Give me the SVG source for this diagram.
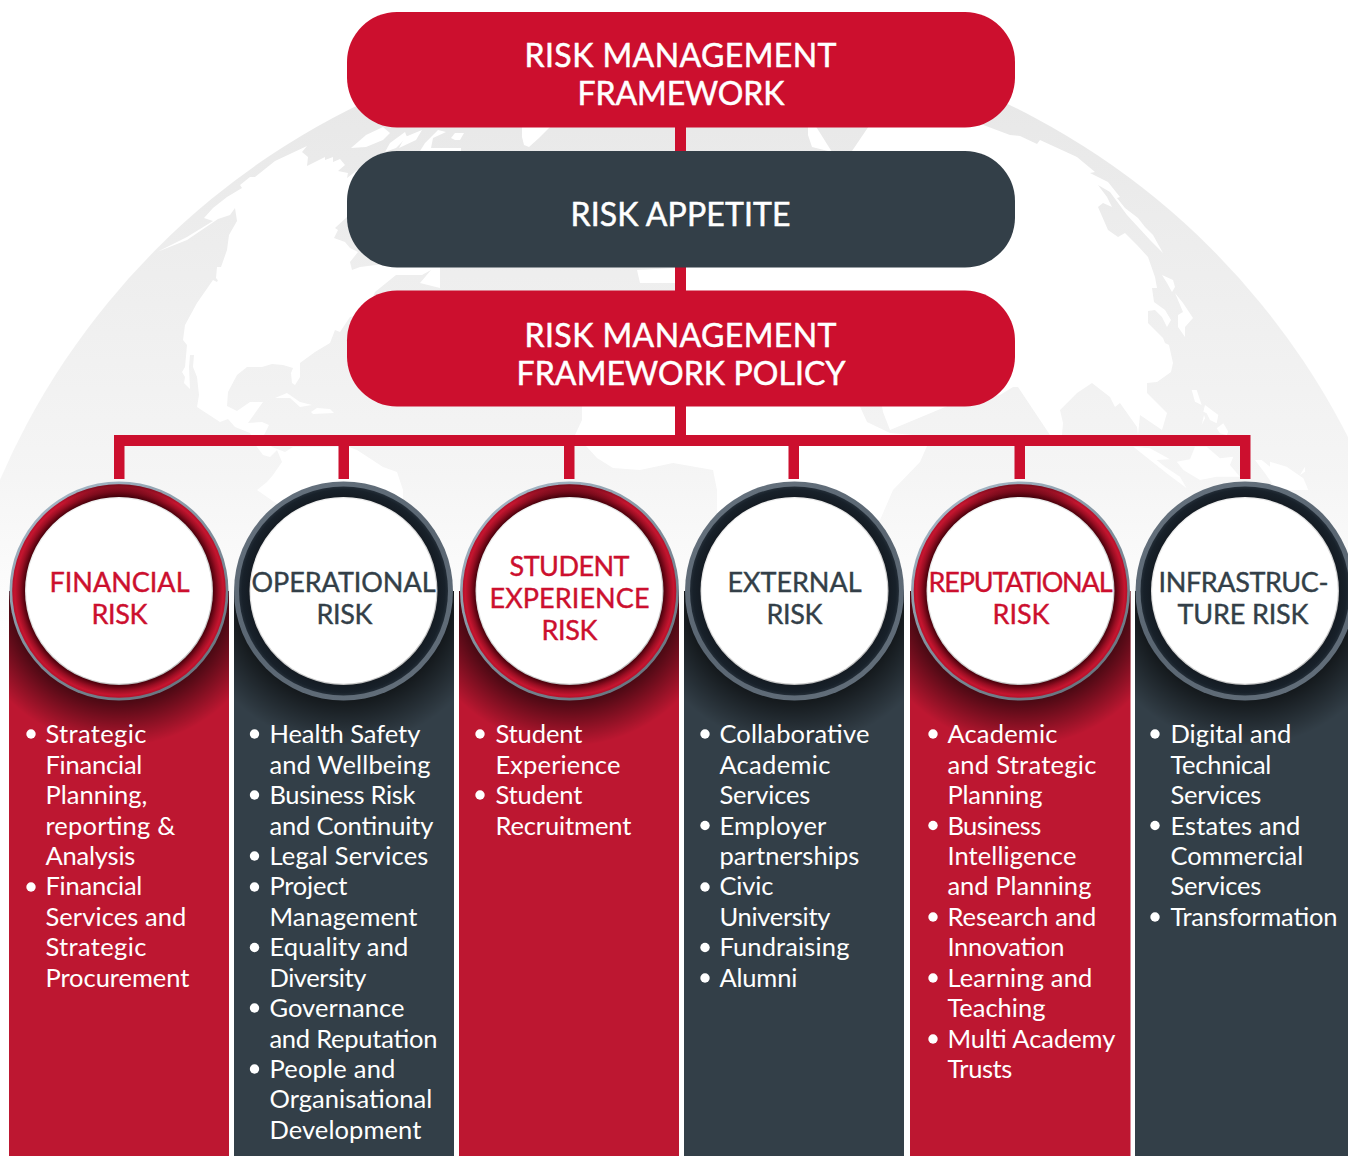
<svg xmlns="http://www.w3.org/2000/svg" width="1348" height="1156" viewBox="0 0 1348 1156">
<style>
text{font-family:Lato,"Liberation Sans",sans-serif}
.t{fill:#fff;font-size:32px;stroke:#fff;stroke-width:.5px;transform:translate(-.5px,1px)}
.h{font-size:27px;stroke-width:.4px}
.hr{fill:#cc0f2e;stroke:#cc0f2e}
.hd{fill:#333f48;stroke:#333f48}
.b{fill:#fff;font-size:25.5px;transform:translate(-.6px,-.5px)}
.box{rx:50px;ry:50px}
.red{fill:#cc0f2e}
.dark{fill:#333f48}
.land{fill:#fff}
.bl{fill:#fff}
</style>
<defs>
<linearGradient id="globe" gradientUnits="userSpaceOnUse" x1="0" y1="100" x2="0" y2="640">
<stop offset="0" stop-color="#e8e8e8"/><stop offset=".7" stop-color="#f5f5f5"/><stop offset="1" stop-color="#fff"/>
</linearGradient>
<radialGradient id="shadow" cx=".5" cy="0" r="1" gradientTransform="translate(.5 0) scale(.705 .975) translate(-.5 0)">
<stop offset="0" stop-color="#000" stop-opacity=".6"/><stop offset=".71" stop-color="#000" stop-opacity=".6"/><stop offset="1" stop-color="#000" stop-opacity="0"/>
</radialGradient>
<linearGradient id="edgeR" x1=".15" y1="0" x2=".8" y2="1">
<stop offset="0" stop-color="#a9bccb"/><stop offset=".5" stop-color="#7f8f9c"/><stop offset="1" stop-color="#66727d"/>
</linearGradient>
<linearGradient id="edgeD" x1=".15" y1="0" x2=".8" y2="1">
<stop offset="0" stop-color="#66727e"/><stop offset=".5" stop-color="#5a6672"/><stop offset="1" stop-color="#626e7a"/>
</linearGradient>
<radialGradient id="ringR">
<stop offset=".88" stop-color="#4a000b"/><stop offset=".935" stop-color="#9a0e23"/><stop offset=".975" stop-color="#c5152f"/><stop offset="1" stop-color="#b5112a"/>
</radialGradient>
<radialGradient id="ringD">
<stop offset=".86" stop-color="#12181f"/><stop offset=".97" stop-color="#18212a"/><stop offset="1" stop-color="#232d37"/>
</radialGradient>
<linearGradient id="top" x1="0" y1="0" x2="0" y2="1">
<stop offset="0" stop-color="#000" stop-opacity=".35"/><stop offset=".09" stop-color="#000" stop-opacity="0"/>
</linearGradient>
<linearGradient id="face" x1=".2" y1="0" x2=".8" y2="1">
<stop offset="0" stop-color="#f4f4f4"/><stop offset="1" stop-color="#bdbdbd"/>
</linearGradient>
<g id="ring-red"><circle r="109.5" fill="url(#edgeR)"/><circle r="106.8" fill="url(#ringR)"/><circle r="106.8" fill="url(#top)"/><circle r="94" fill="url(#face)"/><circle r="92.8" fill="#fff"/></g>
<g id="ring-dark"><circle r="109.5" fill="url(#edgeD)"/><circle r="104.5" fill="url(#ringD)"/><circle r="94" fill="url(#face)"/><circle r="92.8" fill="#fff"/></g>
</defs>

<g id="globe-bg">
<circle cx="684" cy="775" r="745" fill="url(#globe)"/>
<polygon class="land" points="157,252 187,237 213,221 204,218 213,208 227,197 242,188 240,185 250,177 255,177 275,161 307,146 302,152 308,157 307,166 325,157 325,160 333,157 333,162 340,159 345,165 338,171 348,173 347,178 360,168 370,200 370,215 347,217 335,228 338,230 334,238 345,242 350,248 358,252 350,262 352,270 360,267 400,262 440,262 440,288 420,283 431,270 422,275 396,275 375,292 370,305 360,315 350,317 340,332 335,330 330,343 315,352 300,363 300,377 295,385 292,383 291,373 293,368 283,365 272,364 262,367 247,367 237,375 228,392 227,406 237,411 250,402 263,402 248,423 262,422 269,425 263,437 272,447 285,452 293,447 349,447 357,450 383,467 397,472 403,490 403,520 300,520 257,490 267,482 273,475 282,462 277,450 270,457 263,455 257,447 250,433 235,427 228,419 220,422 197,407 199,395 197,377 193,367 194,355 190,355 189,367 190,389 184,383 185,377 182,372 185,367 187,345 183,340 185,325 197,303 213,280 217,282 222,272 220,283 216,278 217,267 221,267 227,250 229,235 237,221 235,208 230,215 218,219 187,240"/>
<polygon class="land" points="275,398 287,393 300,402 312,405 300,407 290,398"/>
<polygon class="land" points="311,412 317,408 330,409 334,413 313,414"/>
<polygon class="land" points="351,148 366,135 383,127 390,133 383,140 366,147"/>
<polygon class="land" points="385,152 390,143 405,132 407,137 396,148"/>
<polygon class="land" points="399,148 405,137 422,130 416,140"/>
<polygon class="land" points="420,151 425,143 438,130 446,132 433,138 431,148 461,148 461,151"/>
<polygon class="land" points="451,138 455,133 464,133 460,140 455,140"/>
<polygon class="land" points="522,125 552,125 539,138 529,147 524,145 522,137"/>
<polygon class="land" points="808,125 815,125 832,152 812,147 808,135"/>
<polygon class="land" points="873,120 970,120 1010,135 1020,136 1037,144 1040,140 1077,157 1095,172 1090,173 1108,182 1120,197 1117,198 1125,208 1138,218 1145,227 1153,235 1163,253 1150,240 1127,215 1110,192 1098,185 1107,197 1112,207 1103,203 1098,207 1108,230 1118,237 1125,233 1137,245 1148,257 1155,277 1157,288 1152,288 1154,302 1165,310 1171,320 1167,327 1162,317 1155,310 1148,311 1148,323 1163,338 1165,343 1169,345 1173,363 1171,372 1157,382 1147,383 1147,393 1167,413 1162,430 1140,415 1138,435 1137,427 1120,403 1115,407 1110,397 1092,383 1077,393 1067,403 1060,410 1063,423 1062,435 1050,435 1018,387 1013,387 1000,395 950,405 890,430 883,412 880,395 857,400 867,422 890,433 925,436 927,446 920,462 893,490 880,520 717,520 717,490 713,470 673,463 640,470 613,468 597,458 587,447 575,435 582,420 582,400 600,380 620,300 676,295 676,283 640,283 637,270 676,268 676,200 852,200 852,151"/>
<polygon class="land" points="1175,293 1183,303 1193,318 1185,327 1185,337 1178,327 1178,315 1183,312"/>
<polygon class="land" points="1162,275 1173,280 1175,287 1172,292 1167,283"/>
<g transform="translate(1010 100) scale(.33333)">
<polygon class="land" points="545,870 560,870 575,915 555,905"/>
<polygon class="land" points="585,915 625,945 620,970 600,960 590,940 580,935"/>
<polygon class="land" points="575,975 582,945 585,955"/>
<polygon class="land" points="620,985 640,970 655,995 650,1005 630,1000"/>
<polygon class="land" points="370,1040 420,1045 480,1078 440,1080 465,1100 510,1130 530,1165 470,1120 420,1080"/>
<polygon class="land" points="500,1085 540,1078 555,1040 590,1040 630,1075 670,1070 660,1095 690,1130 620,1130 570,1140 520,1110"/>
<polygon class="land" points="735,1080 755,1080 780,1100 780,1085 830,1100 880,1135 895,1170 800,1170 765,1120"/>
<polygon class="land" points="870,1125 885,1100 885,1115"/>
</g>
</g>

<g id="connectors" class="red">
<rect x="675" y="120" width="11" height="320"/>
<rect x="114" y="435" width="1136" height="11"/>
<rect x="114" y="435" width="10.500" height="44"/>
<rect x="338.500" y="435" width="10.500" height="44"/>
<rect x="564" y="435" width="10.500" height="44"/>
<rect x="788.500" y="435" width="10.500" height="44"/>
<rect x="1014.500" y="435" width="10.500" height="44"/>
<rect x="1240" y="435" width="10.500" height="44"/>
</g>

<g id="node-framework"><rect class="red box" x="347" y="12" width="668" height="115.500"/>
<text class="t" x="525" y="66" textLength="312">RISK MANAGEMENT</text>
<text class="t" x="578" y="104" textLength="207">FRAMEWORK</text></g>
<g id="node-appetite"><rect class="dark box" x="347" y="151" width="668" height="116.500"/>
<text class="t" x="571" y="225" textLength="220">RISK APPETITE</text></g>
<g id="node-policy"><rect class="red box" x="347" y="290.500" width="668" height="116"/>
<text class="t" x="525" y="346" textLength="312">RISK MANAGEMENT</text>
<text class="t" x="517" y="384" textLength="329">FRAMEWORK POLICY</text></g>

<g id="node-financial">
<rect x="9" y="591" width="220" height="565" fill="#bd1731"/><rect x="9" y="591" width="220" height="159" fill="url(#shadow)"/>
<use href="#ring-red" x="119" y="591"/>
<text class="t h hr" x="50" y="591" textLength="140">FINANCIAL</text>
<text class="t h hr" x="92" y="623" textLength="56">RISK</text>
<circle class="bl" cx="31" cy="734" r="4.700"/><circle class="bl" cx="31" cy="887" r="4.700"/>
<text class="b" x="46" y="743.500" textLength="101">Strategic</text>
<text class="b" x="46" y="774" textLength="97">Financial</text>
<text class="b" x="46" y="804.500" textLength="102">Planning,</text>
<text class="b" x="46" y="835" textLength="130">reporting &amp;</text>
<text class="b" x="46" y="865" textLength="90">Analysis</text>
<text class="b" x="46" y="895.500" textLength="97">Financial</text>
<text class="b" x="46" y="926" textLength="141">Services and</text>
<text class="b" x="46" y="956.500" textLength="101">Strategic</text>
<text class="b" x="46" y="987" textLength="144">Procurement</text>
</g>

<g id="node-operational">
<rect x="234" y="591" width="220" height="565" fill="#333f48"/><rect x="234" y="591" width="220" height="159" fill="url(#shadow)"/>
<use href="#ring-dark" x="343.500" y="591"/>
<text class="t h hd" x="252" y="591" textLength="184">OPERATIONAL</text>
<text class="t h hd" x="317" y="623" textLength="56">RISK</text>
<circle class="bl" cx="254.500" cy="734" r="4.700"/><circle class="bl" cx="254.500" cy="795" r="4.700"/><circle class="bl" cx="254.500" cy="856" r="4.700"/><circle class="bl" cx="254.500" cy="887" r="4.700"/><circle class="bl" cx="254.500" cy="947.500" r="4.700"/><circle class="bl" cx="254.500" cy="1008" r="4.700"/><circle class="bl" cx="254.500" cy="1069" r="4.700"/>
<text class="b" x="270" y="743.500" textLength="151">Health Safety</text>
<text class="b" x="270" y="774" textLength="161">and Wellbeing</text>
<text class="b" x="270" y="804.500" textLength="146">Business Risk</text>
<text class="b" x="270" y="835" textLength="164">and Continuity</text>
<text class="b" x="270" y="865" textLength="159">Legal Services</text>
<text class="b" x="270" y="895.500" textLength="78">Project</text>
<text class="b" x="270" y="926" textLength="148">Management</text>
<text class="b" x="270" y="956.500" textLength="139">Equality and</text>
<text class="b" x="270" y="987" textLength="97">Diversity</text>
<text class="b" x="270" y="1017.500" textLength="135">Governance</text>
<text class="b" x="270" y="1048" textLength="168">and Reputation</text>
<text class="b" x="270" y="1078" textLength="126">People and</text>
<text class="b" x="270" y="1108.500" textLength="163">Organisational</text>
<text class="b" x="270" y="1139" textLength="152">Development</text>
</g>

<g id="node-student">
<rect x="459" y="591" width="220" height="565" fill="#bd1731"/><rect x="459" y="591" width="220" height="159" fill="url(#shadow)"/>
<use href="#ring-red" x="569.500" y="591"/>
<text class="t h hr" x="510" y="575" textLength="120">STUDENT</text>
<text class="t h hr" x="490" y="607" textLength="160">EXPERIENCE</text>
<text class="t h hr" x="542" y="639" textLength="56">RISK</text>
<circle class="bl" cx="480" cy="734" r="4.700"/><circle class="bl" cx="480" cy="795" r="4.700"/>
<text class="b" x="496" y="743.500" textLength="87">Student</text>
<text class="b" x="496" y="774" textLength="125">Experience</text>
<text class="b" x="496" y="804.500" textLength="87">Student</text>
<text class="b" x="496" y="835" textLength="136">Recruitment</text>
</g>

<g id="node-external">
<rect x="684" y="591" width="220" height="565" fill="#333f48"/><rect x="684" y="591" width="220" height="159" fill="url(#shadow)"/>
<use href="#ring-dark" x="794.500" y="591"/>
<text class="t h hd" x="728" y="591" textLength="134">EXTERNAL</text>
<text class="t h hd" x="767" y="623" textLength="56">RISK</text>
<circle class="bl" cx="705" cy="734" r="4.700"/><circle class="bl" cx="705" cy="825.500" r="4.700"/><circle class="bl" cx="705" cy="887" r="4.700"/><circle class="bl" cx="705" cy="947.500" r="4.700"/><circle class="bl" cx="705" cy="978" r="4.700"/>
<text class="b" x="720" y="743.500" textLength="150">Collaborative</text>
<text class="b" x="720" y="774" textLength="111">Academic</text>
<text class="b" x="720" y="804.500" textLength="91">Services</text>
<text class="b" x="720" y="835" textLength="107">Employer</text>
<text class="b" x="720" y="865" textLength="140">partnerships</text>
<text class="b" x="720" y="895.500" textLength="54">Civic</text>
<text class="b" x="720" y="926" textLength="111">University</text>
<text class="b" x="720" y="956.500" textLength="130">Fundraising</text>
<text class="b" x="720" y="987" textLength="78">Alumni</text>
</g>

<g id="node-reputational">
<rect x="910" y="591" width="220.500" height="565" fill="#bd1731"/><rect x="910" y="591" width="220.500" height="159" fill="url(#shadow)"/>
<use href="#ring-red" x="1020.500" y="591"/>
<text class="t h hr" x="929" y="591" textLength="184">REPUTATIONAL</text>
<text class="t h hr" x="993" y="623" textLength="57">RISK</text>
<circle class="bl" cx="933" cy="734" r="4.700"/><circle class="bl" cx="933" cy="825.500" r="4.700"/><circle class="bl" cx="933" cy="917" r="4.700"/><circle class="bl" cx="933" cy="978" r="4.700"/><circle class="bl" cx="933" cy="1039" r="4.700"/>
<text class="b" x="948" y="743.500" textLength="110">Academic</text>
<text class="b" x="948" y="774" textLength="149">and Strategic</text>
<text class="b" x="948" y="804.500" textLength="95">Planning</text>
<text class="b" x="948" y="835" textLength="94">Business</text>
<text class="b" x="948" y="865" textLength="129">Intelligence</text>
<text class="b" x="948" y="895.500" textLength="144">and Planning</text>
<text class="b" x="948" y="926" textLength="149">Research and</text>
<text class="b" x="948" y="956.500" textLength="117">Innovation</text>
<text class="b" x="948" y="987" textLength="145">Learning and</text>
<text class="b" x="948" y="1017.500" textLength="98">Teaching</text>
<text class="b" x="948" y="1048" textLength="168">Multi Academy</text>
<text class="b" x="948" y="1078" textLength="65">Trusts</text>
</g>

<g id="node-infrastructure">
<rect x="1135" y="591" width="220" height="565" fill="#333f48"/><rect x="1135" y="591" width="220" height="159" fill="url(#shadow)"/>
<use href="#ring-dark" x="1245" y="591"/>
<text class="t h hd" x="1159" y="591" textLength="170">INFRASTRUC-</text>
<text class="t h hd" x="1178" y="623" textLength="131">TURE RISK</text>
<circle class="bl" cx="1155" cy="734" r="4.700"/><circle class="bl" cx="1155" cy="825.500" r="4.700"/><circle class="bl" cx="1155" cy="917" r="4.700"/>
<text class="b" x="1171" y="743.500" textLength="121">Digital and</text>
<text class="b" x="1171" y="774" textLength="101">Technical</text>
<text class="b" x="1171" y="804.500" textLength="91">Services</text>
<text class="b" x="1171" y="835" textLength="130">Estates and</text>
<text class="b" x="1171" y="865" textLength="133">Commercial</text>
<text class="b" x="1171" y="895.500" textLength="91">Services</text>
<text class="b" x="1171" y="926" textLength="167">Transformation</text>
</g>
</svg>
